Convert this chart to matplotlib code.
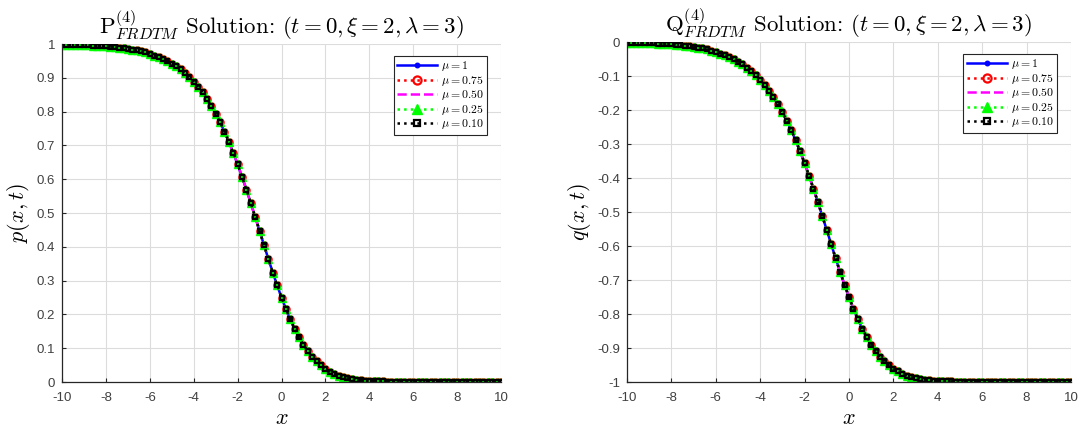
import numpy as np
import matplotlib.pyplot as plt
from matplotlib.ticker import FormatStrFormatter

plt.rcParams['font.family'] = ['Liberation Sans', 'DejaVu Sans']
plt.rcParams['mathtext.fontset'] = 'cm'
plt.rcParams['axes.unicode_minus'] = False

# sample grid of the solution curves
x_vals = np.linspace(-10, 10, 101)

# P^(4) curve
p_vals = [0.998, 0.998, 0.998, 0.997, 0.997, 0.996, 0.996, 0.995, 0.994, 0.994,
          0.993, 0.992, 0.990, 0.989, 0.987, 0.985, 0.983, 0.981, 0.978, 0.975,
          0.971, 0.966, 0.962, 0.956, 0.949, 0.942, 0.934, 0.925, 0.914, 0.902,
          0.889, 0.874, 0.857, 0.838, 0.817, 0.794, 0.768, 0.741, 0.711, 0.678,
          0.644, 0.607, 0.569, 0.529, 0.488, 0.447, 0.405, 0.364, 0.324, 0.286,
          0.250,
          0.216, 0.185, 0.157, 0.132, 0.110, 0.091, 0.075, 0.061, 0.049, 0.039,
          0.031, 0.025, 0.019, 0.015, 0.012, 0.009, 0.007, 0.006, 0.004, 0.003,
          0.003, 0.002, 0.002, 0.001, 0.001, 0.001, 0.001,
          0.0, 0.0, 0.0, 0.0, 0.0, 0.0, 0.0, 0.0, 0.0, 0.0, 0.0, 0.0,
          0.0, 0.0, 0.0, 0.0, 0.0, 0.0, 0.0, 0.0, 0.0, 0.0, 0.0]

# Q^(4) curve
q_vals = [-0.002, -0.002, -0.002, -0.003, -0.003, -0.004, -0.004, -0.005, -0.006, -0.006,
          -0.007, -0.008, -0.010, -0.011, -0.013, -0.015, -0.017, -0.019, -0.022, -0.025,
          -0.029, -0.034, -0.038, -0.044, -0.051, -0.058, -0.066, -0.075, -0.086, -0.098,
          -0.111, -0.126, -0.143, -0.162, -0.183, -0.206, -0.232, -0.259, -0.289, -0.322,
          -0.356, -0.393, -0.431, -0.471, -0.512, -0.553, -0.595, -0.636, -0.676, -0.714,
          -0.750,
          -0.784, -0.815, -0.843, -0.868, -0.890, -0.909, -0.925, -0.939, -0.951, -0.961,
          -0.969, -0.975, -0.981, -0.985, -0.988, -0.991, -0.993, -0.994, -0.996, -0.997,
          -0.997, -0.998, -0.998, -0.999, -0.999, -0.999, -0.999,
          -1.0, -1.0, -1.0, -1.0, -1.0, -1.0, -1.0, -1.0, -1.0, -1.0, -1.0, -1.0,
          -1.0, -1.0, -1.0, -1.0, -1.0, -1.0, -1.0, -1.0, -1.0, -1.0, -1.0]

mu_labels = ['1', '0.75', '0.50', '0.25', '0.10']

styles = [
    dict(color='#0000ff', ls='-', lw=1.8, marker='.', ms=5),
    dict(color='#ff0000', ls=':', lw=1.8, marker='o', ms=4.5, mfc='none', mew=1.6),
    dict(color='#ff00ff', ls='--', lw=1.8),
    dict(color='#00ff00', ls=':', lw=1.8, marker='^', ms=5.5),
    dict(color='#000000', ls=':', lw=1.8, marker='s', ms=3.5, mfc='none', mew=1.6),
]

fig = plt.figure(figsize=(10.81, 4.30), dpi=100)
ax1 = fig.add_axes([0.0574, 0.1116, 0.4061, 0.786])
ax2 = fig.add_axes([0.5800, 0.1116, 0.4107, 0.7907])


def setup(ax, yvals, letter, yname, ylo, yhi):
    for lab, st in zip(mu_labels, styles):
        ax.plot(x_vals, yvals, label=r'$\mu=' + lab + '$', **st)
    ax.set_xlim(-10, 10)
    ax.set_ylim(ylo, yhi)
    ax.set_xticks(np.arange(-10, 11, 2))
    ax.set_yticks(np.round(np.arange(ylo, yhi + 0.01, 0.1), 1) + 0.0)
    ax.yaxis.set_major_formatter(FormatStrFormatter('%g'))
    ax.xaxis.set_major_formatter(FormatStrFormatter('%g'))
    ax.grid(True, color='#dcdcdc', lw=0.8)
    ax.set_axisbelow(True)
    for s in ['top', 'right']:
        ax.spines[s].set_visible(False)
    for s in ['left', 'bottom']:
        ax.spines[s].set_color('#262626')
        ax.spines[s].set_linewidth(0.9)
    ax.tick_params(direction='in', length=3, labelsize=9.5, colors='#262626',
                   labelcolor='#404040')
    ax.tick_params(axis='x', pad=7)
    ax.tick_params(axis='y', pad=5)
    ax.set_title(r'$\mathrm{' + letter + r'}^{(4)}_{FRDTM}$ Solution: $(t=0,\xi=2,\lambda=3)$',
                 fontsize=16.5, fontfamily='cmr10', pad=7)
    ax.set_xlabel(r'$x$', fontsize=16, labelpad=3)
    ax.set_ylabel(yname, fontsize=16, labelpad=3)
    leg = ax.legend(loc='upper right', bbox_to_anchor=(0.969, 0.966), fontsize=8.5,
                    handlelength=3.4, handletextpad=0.3, labelspacing=0.05,
                    borderpad=0.3, borderaxespad=0, fancybox=False,
                    framealpha=1, edgecolor='#262626', markerscale=1.3)
    leg.get_frame().set_linewidth(0.8)


setup(ax1, p_vals, 'P', r'$p(x,t)$', 0, 1)
setup(ax2, q_vals, 'Q', r'$q(x,t)$', -1, 0)

fig.savefig('out.png', dpi=100)
